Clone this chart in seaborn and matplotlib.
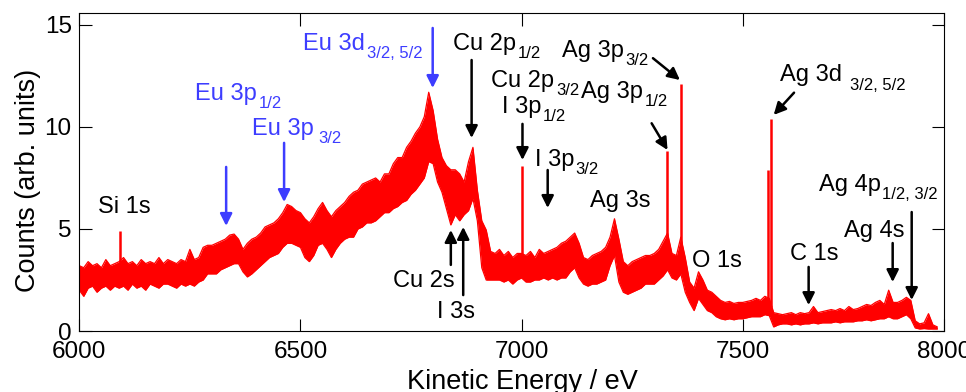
import numpy as np
import pandas as pd
import matplotlib
matplotlib.use("Agg")
import matplotlib.pyplot as plt
import seaborn as sns

# spectrum: upper / lower edge of the noisy trace, every 10 eV
energy = np.arange(6000, 7950, 10)
upper = [3.2, 3.1, 3.4, 3.2, 3.3, 3.1, 3.5, 3.2, 3.3, 3.4,
         3.6, 3.3, 3.4, 3.2, 3.5, 3.3, 3.4, 3.3, 3.6, 3.3,
         3.5, 3.4, 3.3, 3.5, 3.4, 4.0, 3.5, 3.6, 4.1, 4.2,
         4.2, 4.3, 4.4, 4.5, 4.7, 4.75, 4.5, 4.0, 4.3, 4.5,
         4.6, 4.8, 5.1, 5.2, 5.3, 5.5, 5.8, 6.2, 6.1, 5.9,
         5.8, 5.5, 5.3, 5.6, 6.0, 6.3, 5.9, 5.6, 5.9, 6.1,
         6.3, 6.6, 6.8, 6.9, 7.2, 7.3, 7.4, 7.5, 7.3, 7.7,
         7.7, 8.2, 8.5, 8.5, 9.0, 9.3, 9.7, 10.0, 10.5, 11.7,
         10.8, 9.4, 8.5, 8.1, 7.9, 7.9, 7.7, 7.3, 8.3, 9.0,
         6.9, 5.4, 4.95, 3.9, 3.8, 4.0, 3.7, 3.9, 3.6, 3.8,
         3.8, 3.7, 3.9, 3.6, 4.0, 3.8, 3.9, 4.0, 4.1, 4.3,
         4.4, 4.6, 4.8, 4.3, 3.6, 3.5, 3.7, 3.8, 3.9, 4.1,
         4.6, 5.5, 4.5, 3.4, 3.2, 3.4, 3.5, 3.6, 3.7, 3.7,
         3.8, 4.0, 4.4, 4.8, 3.8, 3.7, 4.6, 3.6, 2.4, 2.1,
         2.9, 2.5, 2.0, 1.9, 1.7, 1.5, 1.4, 1.45, 1.35, 1.4,
         1.4, 1.45, 1.5, 1.6, 1.5, 1.7, 1.6, 0.9, 0.85, 0.8,
         0.85, 0.9, 0.8, 0.9, 0.85, 0.9, 1.2, 0.9, 0.95, 1.0,
         1.05, 1.0, 1.1, 1.0, 1.2, 1.05, 1.1, 1.2, 1.3, 1.25,
         1.4, 1.5, 1.3, 2.0, 1.4, 1.4, 1.5, 1.65, 1.5, 0.5,
         0.35, 0.4, 0.85, 0.3, 0.2]
lower = [2.0, 1.7, 2.1, 2.2, 1.9, 2.1, 2.2, 2.0, 2.2, 2.1,
         2.2, 2.0, 2.3, 2.1, 2.2, 2.0, 2.3, 2.2, 2.1, 2.3,
         2.3, 2.2, 2.1, 2.3, 2.2, 2.3, 2.2, 2.4, 2.5, 2.8,
         2.8, 2.8, 3.0, 3.1, 3.2, 3.3, 3.3, 2.9, 2.65, 2.8,
         3.0, 3.2, 3.4, 3.6, 3.7, 3.8, 4.1, 4.3, 4.3, 4.2,
         4.1, 3.6, 3.4, 3.7, 4.2, 4.3, 4.0, 3.6, 4.0, 4.3,
         4.5, 4.6, 4.6, 5.0, 5.1, 5.3, 5.3, 5.4, 5.6, 5.8,
         5.8, 6.0, 6.1, 6.3, 6.4, 6.7, 6.9, 7.2, 7.5, 8.3,
         8.2, 7.3, 6.8, 6.0, 5.2, 5.7, 5.4, 5.7, 5.9, 6.5,
         5.4, 3.1, 2.5, 2.5, 2.5, 2.5, 2.4, 2.5, 2.3, 2.5,
         2.6, 2.4, 2.4, 2.5, 2.5, 2.6, 2.5, 2.6, 2.5, 2.6,
         2.6, 2.9, 3.1, 2.6, 2.3, 2.2, 2.3, 2.3, 2.4, 2.5,
         3.2, 3.7, 2.4, 1.9, 1.8, 1.9, 2.0, 2.1, 2.3, 2.3,
         2.3, 2.5, 2.7, 3.0, 2.6, 2.5, 2.8, 1.9, 1.4, 1.0,
         1.6, 1.3, 1.0, 0.9, 0.7, 0.6, 0.55, 0.6, 0.55, 0.6,
         0.6, 0.65, 0.7, 0.7, 0.7, 0.8, 0.75, 0.2, 0.3, 0.35,
         0.35, 0.3, 0.35, 0.3, 0.35, 0.35, 0.4, 0.35, 0.4, 0.4,
         0.4, 0.45, 0.4, 0.45, 0.45, 0.45, 0.5, 0.5, 0.55, 0.5,
         0.55, 0.6, 0.6, 0.7, 0.6, 0.6, 0.7, 0.8, 0.6, 0.15,
         0.1, 0.12, 0.1, 0.1, 0.1]

# narrow lines (Si 1s, I 3p1/2, Ag 3p1/2, Ag 3p3/2, Ag 3d doublet)
peak_energy = [6093, 7002, 7329, 7361, 7557, 7565]
peak_base = [2.9, 3.0, 3.5, 3.8, 1.2, 1.2]
peak_top = [4.9, 8.1, 8.8, 12.1, 7.9, 10.4]

xtick_pos = [6000, 6500, 7000, 7500, 7955]
xtick_lab = ["6000", "6500", "7000", "7500", "8000"]

# label, subscript, text x, text y, arrow start, arrow end, colour, gap before subscript (pt)
BLUE = "#3d3dff"
labels = [
    ("Si 1s", "", 6042, 5.78, None, None, "black", 0),
    ("Eu 3p", "1/2", 6262, 11.32, (6332, 8.04), (6332, 5.15), BLUE, 1),
    ("Eu 3p", "3/2", 6390, 9.61, (6463, 9.22), (6463, 6.32), BLUE, 3.5),
    ("Eu 3d", "3/2, 5/2", 6506, 13.77, (6799, 14.85), (6799, 11.91), BLUE, 1.5),
    ("Cu 2p", "1/2", 6845, 13.77, (6887, 13.28), (6887, 9.46), "black", 1),
    ("Cu 2p", "3/2", 6931, 11.96, None, None, "black", 1.5),
    ("I 3p", "1/2", 6955, 10.69, (7002, 10.15), (7002, 8.38), "black", 1),
    ("Ag 3p", "3/2", 7091, 13.43, (7297, 13.37), (7358, 12.30), "black", 1),
    ("Ag 3p", "1/2", 7134, 11.42, (7294, 10.18), (7330, 8.87), "black", 1.5),
    ("Ag 3d", "3/2, 5/2", 7584, 12.25, (7616, 11.68), (7570, 10.59), "black", 5.5),
    ("I 3p", "3/2", 7030, 8.09, (7059, 7.89), (7059, 6.03), "black", 1),
    ("Ag 3s", "", 7154, 6.08, None, None, "black", 0),
    ("Cu 2s", "", 6709, 2.16, (6840, 3.24), (6840, 4.95), "black", 0),
    ("I 3s", "", 6809, 0.64, (6868, 1.76), (6868, 5.10), "black", 0),
    ("O 1s", "", 7385, 3.14, None, None, "black", 0),
    ("C 1s", "", 7606, 3.48, (7649, 3.14), (7649, 1.27), "black", 0),
    ("Ag 4s", "", 7729, 4.61, (7839, 4.31), (7839, 2.40), "black", 0),
    ("Ag 4p", "1/2, 3/2", 7672, 6.86, (7882, 5.83), (7882, 1.52), "black", 1),
]

sns.set_theme(style="ticks")
plt.rcParams["font.family"] = ["Liberation Sans", "DejaVu Sans"]

df = pd.DataFrame({"energy": energy, "upper": upper, "lower": lower})

fig = plt.figure(figsize=(9.66, 3.92), dpi=100)
ax = fig.add_axes([0.0821, 0.1556, 0.8951, 0.8105])

ax.fill_between(df["energy"], df["lower"], df["upper"], color="red", lw=0)
sns.lineplot(data=df, x="energy", y="upper", color="red", lw=0.9, ax=ax)
sns.lineplot(data=df, x="energy", y="lower", color="red", lw=0.9, ax=ax)
ax.vlines(peak_energy, peak_base, peak_top, color="red", lw=1.8)

for txt, sub, tx, ty, a0, a1, col, gap in labels:
    t = ax.text(tx, ty, txt, color=col, fontsize=17, ha="left", va="baseline")
    if sub:
        # subscript hangs off the bottom-right corner of the main text
        ax.annotate(sub, xy=(1, 0), xycoords=t, xytext=(gap, -2.5),
                    textcoords="offset points", color=col, fontsize=12,
                    ha="left", va="baseline")
    if a0 is not None:
        ax.annotate("", xy=a1, xytext=a0,
                    arrowprops=dict(arrowstyle="-|>", color=col, lw=1.8,
                                    mutation_scale=18, shrinkA=0, shrinkB=0))

ax.set_xlim(6000, 7955)
ax.set_ylim(0, 15.57)
ax.set_xticks(xtick_pos)
ax.set_xticklabels(xtick_lab)
ax.set_yticks([0, 5, 10, 15])
ax.tick_params(axis="both", direction="in", length=9, width=0.8, color="black",
               labelsize=17.5, top=True, right=True, labelcolor="black")
ax.tick_params(axis="x", pad=7.5)
ax.tick_params(axis="y", pad=5.5)
for s in ax.spines.values():
    s.set_visible(True)
    s.set_color("black")
    s.set_linewidth(0.8)

ax.set_xlabel("Kinetic Energy / eV", fontsize=19.5, color="black")
ax.set_ylabel("Counts (arb. units)", fontsize=19.5, color="black")
ax.xaxis.set_label_coords(0.512, -0.121)
ax.yaxis.set_label_coords(-0.0443, 0.475)

fig.savefig("out.png", dpi=100)
